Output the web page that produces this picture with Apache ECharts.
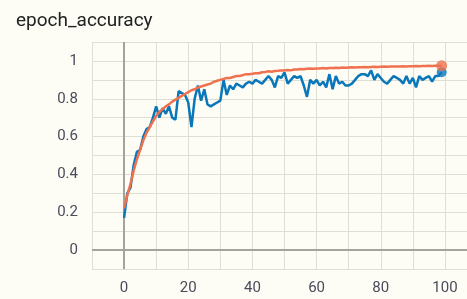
<!DOCTYPE html>
<html>
<head>
<meta charset="utf-8">
<script src="https://cdn.jsdelivr.net/npm/echarts@6/dist/echarts.min.js"></script>
<style>
  html, body { margin: 0; padding: 0; background: #fdfdf6; }
  #main { width: 467px; height: 299px; }
</style>
</head>
<body>
<div id="main"></div>
<script>
// epoch_accuracy, validation (blue) vs train (orange)
var blue = [
  0.17, 0.30, 0.33, 0.45, 0.52, 0.53, 0.60, 0.64, 0.65, 0.70,
  0.76, 0.70, 0.75, 0.72, 0.76, 0.70, 0.69, 0.84, 0.83, 0.82,
  0.78, 0.65, 0.80, 0.87, 0.79, 0.85, 0.77, 0.76, 0.77, 0.78,
  0.79, 0.90, 0.82, 0.87, 0.85, 0.88, 0.87, 0.86, 0.88, 0.89,
  0.88, 0.90, 0.89, 0.88, 0.90, 0.92, 0.90, 0.86, 0.92, 0.91,
  0.94, 0.88, 0.90, 0.92, 0.91, 0.92, 0.87, 0.81, 0.90, 0.88,
  0.90, 0.87, 0.89, 0.86, 0.93, 0.85, 0.92, 0.88, 0.89, 0.87,
  0.87, 0.88, 0.90, 0.92, 0.93, 0.93, 0.92, 0.95, 0.90, 0.93,
  0.91, 0.89, 0.88, 0.90, 0.92, 0.91, 0.90, 0.88, 0.92, 0.88,
  0.91, 0.86, 0.92, 0.90, 0.91, 0.92, 0.89, 0.92, 0.92, 0.94
];
var orange = [
  0.22, 0.29, 0.35, 0.42, 0.48, 0.53, 0.58, 0.62, 0.65, 0.68,
  0.71, 0.73, 0.745, 0.76, 0.77, 0.785, 0.795, 0.805, 0.815, 0.825,
  0.835, 0.845, 0.85, 0.86, 0.865, 0.87, 0.875, 0.88, 0.89, 0.895,
  0.90, 0.905, 0.91, 0.91, 0.915, 0.92, 0.92, 0.925, 0.93, 0.93,
  0.932, 0.935, 0.935, 0.94, 0.942, 0.945, 0.943, 0.947, 0.948, 0.95,
  0.95, 0.952, 0.95, 0.955, 0.955, 0.957, 0.956, 0.958, 0.96, 0.958,
  0.96, 0.96, 0.962, 0.96, 0.963, 0.962, 0.964, 0.963, 0.965, 0.964,
  0.965, 0.966, 0.965, 0.967, 0.966, 0.968, 0.967, 0.968, 0.969, 0.968,
  0.969, 0.97, 0.969, 0.97, 0.971, 0.97, 0.971, 0.972, 0.971, 0.972,
  0.972, 0.973, 0.972, 0.973, 0.973, 0.974, 0.973, 0.974, 0.974, 0.975
];
var epochs = blue.map(function (v, i) { return i; });
var xTicks = [0, 20, 40, 60, 80, 100];
var yTicks = [0, 0.2, 0.4, 0.6, 0.8, 1];

function pairs(vals) {
  return vals.map(function (v, i) { return [epochs[i], v]; });
}
var last = epochs.length - 1;

var chart = echarts.init(document.getElementById('main'));
var labelStyle = { color: '#4b4b5c', fontSize: 15, fontFamily: 'Roboto' };
var gridLine = { color: '#dedfd4', width: 1 };

chart.setOption({
  backgroundColor: '#fdfdf6',
  animation: false,
  title: {
    text: 'epoch_accuracy',
    left: 11,
    top: 7,
    textStyle: { color: '#222', fontSize: 19, fontWeight: 'normal', fontFamily: 'Roboto' }
  },
  grid: { left: 92, top: 42, width: 385, height: 227, outerBoundsMode: 'none', containLabel: false },
  xAxis: {
    type: 'value',
    min: -10,
    max: 110,
    interval: 10,
    axisLine: { show: false },
    axisTick: { show: true, length: 7, lineStyle: gridLine },
    splitLine: { show: true, lineStyle: gridLine },
    axisLabel: Object.assign({
      margin: 12,
      formatter: function (v) { return xTicks.indexOf(v) >= 0 ? String(v) : ''; }
    }, labelStyle)
  },
  yAxis: {
    type: 'value',
    min: -0.1,
    max: 1.1,
    interval: 0.1,
    axisLine: { show: false },
    axisTick: { show: true, length: 6, lineStyle: gridLine },
    splitLine: { show: true, lineStyle: gridLine },
    axisLabel: Object.assign({
      margin: 14,
      formatter: function (v) {
        var r = Math.round(v * 10) / 10;
        return yTicks.indexOf(r) >= 0 ? String(r) : '';
      }
    }, labelStyle)
  },
  series: [
    {
      name: 'validation',
      type: 'line',
      data: pairs(blue),
      showSymbol: false,
      lineStyle: { color: '#0a77bb', width: 2.5 },
      z: 3,
      markLine: {
        silent: true,
        symbol: 'none',
        label: { show: false },
        lineStyle: { color: '#a3a39b', width: 2, type: 'solid' },
        data: [{ xAxis: 0 }, { yAxis: 0 }],
        z: 1
      }
    },
    {
      name: 'train',
      type: 'line',
      data: pairs(orange),
      showSymbol: false,
      lineStyle: { color: '#f0714d', width: 2.5 },
      z: 4
    },
    {
      type: 'scatter',
      data: [[epochs[last], blue[last]]],
      symbolSize: 10,
      itemStyle: { color: '#0a77bb' },
      z: 5
    },
    {
      type: 'scatter',
      data: [[epochs[last], orange[last]]],
      symbolSize: 11,
      itemStyle: { color: '#f0714d' },
      z: 6
    }
  ]
});
</script>
</body>
</html>
